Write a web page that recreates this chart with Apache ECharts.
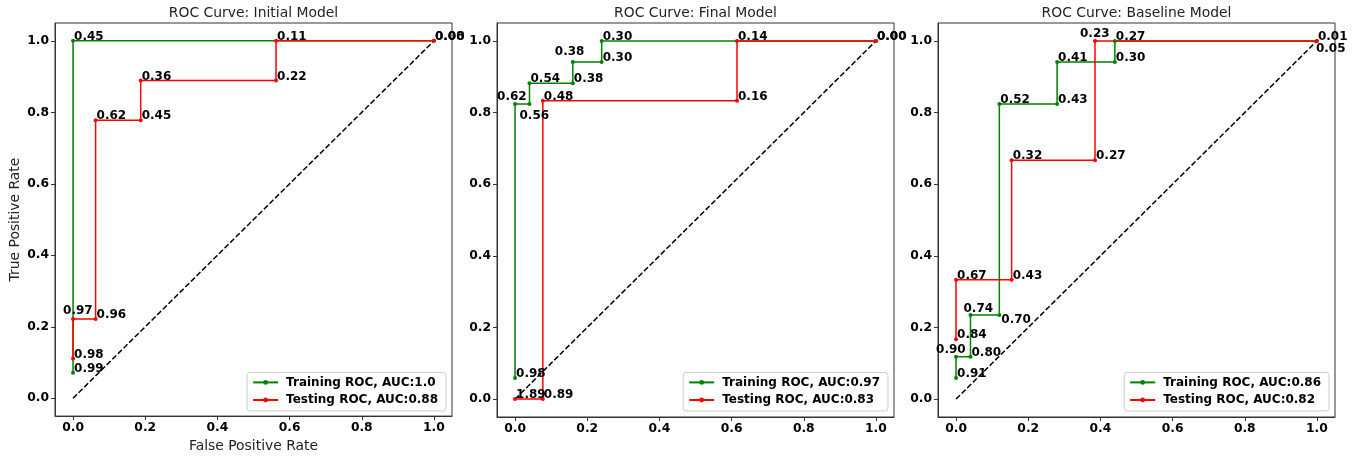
<!DOCTYPE html>
<html>
<head>
<meta charset="utf-8">
<script src="https://cdn.jsdelivr.net/npm/echarts@6/dist/echarts.min.js"></script>
<style>
  html, body { margin: 0; padding: 0; background: #fff; }
  #chart { width: 1361px; height: 458px; }
</style>
</head>
<body>
<div id="chart"></div>
<script>
// ---- data ----
const titles = ['ROC Curve: Initial Model', 'ROC Curve: Final Model', 'ROC Curve: Baseline Model'];
const trainAuc = ['1.0', '0.97', '0.86'];
const testAuc = ['0.88', '0.83', '0.82'];
const tickValues = [0, 0.2, 0.4, 0.6, 0.8, 1.0];

// Initial model
const initTrainFpr = [0, 0, 1];
const initTrainTpr = [0.071, 1, 1];
const initTrainThr = ['0.99', '0.45', '0.00'];
const initTestFpr = [0, 0, 0.0625, 0.0625, 0.1875, 0.1875, 0.5625, 0.5625, 1];
const initTestTpr = [0.111, 0.222, 0.222, 0.778, 0.778, 0.889, 0.889, 1, 1];
const initTestThr = ['0.98', '0.97', '0.96', '0.62', '0.45', '0.36', '0.22', '0.11', '0.08'];

// Final model
const finTrainFpr = [0, 0, 0.04, 0.04, 0.16, 0.16, 0.24, 0.24, 1];
const finTrainTpr = [0.059, 0.824, 0.824, 0.882, 0.882, 0.941, 0.941, 1, 1];
const finTrainThr = ['0.98', '0.62', '0.56', '0.54', '0.38', '0.38', '0.30', '0.30', '0.00'];
const finTestFpr = [0, 0.077, 0.077, 0.615, 0.615, 1];
const finTestTpr = [0, 0, 0.833, 0.833, 1, 1];
const finTestThr = ['1.89', '0.89', '0.48', '0.16', '0.14', '0.00'];

// Baseline model
const baseTrainFpr = [0, 0, 0.04, 0.04, 0.12, 0.12, 0.28, 0.28, 0.44, 0.44, 1];
const baseTrainTpr = [0.059, 0.118, 0.118, 0.235, 0.235, 0.824, 0.824, 0.941, 0.941, 1, 1];
const baseTrainThr = ['0.91', '0.90', '0.80', '0.74', '0.70', '0.52', '0.43', '0.41', '0.30', '0.27', '0.05'];
const baseTestFpr = [0, 0, 0.154, 0.154, 0.385, 0.385, 1];
const baseTestTpr = [0.167, 0.333, 0.333, 0.667, 0.667, 1, 1];
const baseTestThr = ['0.84', '0.67', '0.43', '0.32', '0.27', '0.23', '0.01'];

const diagonal = [0, 1];

// ---- layout / style ----
const FONT = 'DejaVu Sans';
const gridLeft = [55, 497, 938];
const legendRight = [915, 473, 32];
const defaultNudge = [1, 2];
// label nudges (px) where the reference moved a threshold label off its point
const labelNudge = {
  '0-test-1': [-10, -2.5],
  '1-train-1': [-18, -1], '1-train-2': [-10, 18], '1-train-5': [-18, -4],
  '2-train-1': [-20, -0.5], '2-train-3': [-7, -0.5], '2-train-4': [2, 10.5], '2-train-10': [-1, 13.5],
  '2-test-5': [-15, -1.5]
};

const panels = [
  { train: [initTrainFpr, initTrainTpr, initTrainThr], test: [initTestFpr, initTestTpr, initTestThr] },
  { train: [finTrainFpr, finTrainTpr, finTrainThr], test: [finTestFpr, finTestTpr, finTestThr] },
  { train: [baseTrainFpr, baseTrainTpr, baseTrainThr], test: [baseTestFpr, baseTestTpr, baseTestThr] }
];

function rocSeries(p, kind, name, color) {
  const [fpr, tpr, thr] = panels[p][kind];
  return {
    name: name,
    type: 'line',
    xAxisIndex: p,
    yAxisIndex: p,
    symbol: 'circle',
    symbolSize: 4,
    showSymbol: true,
    showAllSymbol: true,
    itemStyle: { color: color },
    lineStyle: { color: color, width: 1.5 },
    label: {
      show: true,
      position: 'inside',
      align: 'left',
      verticalAlign: 'bottom',
      fontFamily: FONT,
      fontSize: 12,
      fontWeight: 'bold',
      color: '#000'
    },
    data: fpr.map((x, i) => ({
      value: [x, tpr[i]],
      label: { formatter: thr[i], offset: labelNudge[p + '-' + kind + '-' + i] || defaultNudge }
    }))
  };
}

const grid = [], xAxis = [], yAxis = [], title = [], legend = [], series = [];

for (let p = 0; p < 3; p++) {
  grid.push({ left: gridLeft[p], top: 23, width: 397, height: 394, show: true, borderColor: '#333', borderWidth: 1 });
  const axisCommon = {
    type: 'value',
    gridIndex: p,
    min: -0.05,
    max: 1.05,
    splitLine: { show: false },
    axisLine: { show: true, onZero: false, lineStyle: { color: '#333', width: 1 } },
    axisTick: { show: true, customValues: tickValues, length: 4, lineStyle: { color: '#333' } },
    axisLabel: {
      customValues: tickValues,
      formatter: v => v.toFixed(1),
      margin: 6,
      fontFamily: FONT,
      fontSize: 12.3,
      fontWeight: 'bold',
      color: '#000'
    },
    nameTextStyle: { fontFamily: FONT, fontSize: 13.9, color: '#222' }
  };
  xAxis.push(Object.assign({}, axisCommon, p === 0 ? { name: 'False Positive Rate', nameLocation: 'middle', nameGap: 21 } : {}));
  yAxis.push(Object.assign({}, axisCommon, p === 0 ? { name: 'True Positive Rate', nameLocation: 'middle', nameGap: 33 } : {}));

  title.push({
    text: titles[p],
    left: gridLeft[p] + 198.5,
    top: 6,
    padding: 0,
    textAlign: 'center',
    textStyle: { fontFamily: FONT, fontSize: 13.9, fontWeight: 'normal', color: '#222' }
  });

  const trainName = 'Training ROC, AUC:' + trainAuc[p];
  const testName = 'Testing ROC, AUC:' + testAuc[p];

  legend.push({
    data: [trainName, testName],
    orient: 'vertical',
    right: legendRight[p],
    bottom: 47,
    itemWidth: 25,
    itemHeight: 6,
    itemGap: 5.6,
    padding: [4, 8, 5, 5],
    borderColor: '#ccc',
    borderWidth: 1,
    borderRadius: 3,
    backgroundColor: 'rgba(255,255,255,0.8)',
    textStyle: { fontFamily: FONT, fontSize: 12, fontWeight: 'bold', color: '#000', padding: [0, 0, 0, 3] }
  });

  series.push({
    type: 'line',
    xAxisIndex: p,
    yAxisIndex: p,
    silent: true,
    symbol: 'none',
    lineStyle: { color: '#000', width: 1.5, type: [5.5, 2.4] },
    data: diagonal.map(v => [v, v])
  });
  series.push(rocSeries(p, 'train', trainName, '#008000'));
  series.push(rocSeries(p, 'test', testName, '#ff0000'));
}

const chart = echarts.init(document.getElementById('chart'), null, { renderer: 'canvas' });
chart.setOption({
  animation: false,
  textStyle: { fontFamily: FONT },
  title: title,
  legend: legend,
  grid: grid,
  xAxis: xAxis,
  yAxis: yAxis,
  series: series
});
</script>
</body>
</html>
